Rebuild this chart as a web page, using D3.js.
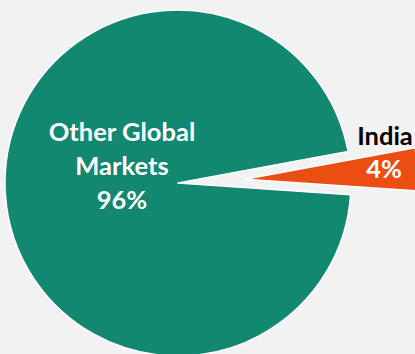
<!DOCTYPE html>
<html><head><meta charset="utf-8">
<script src="https://cdn.jsdelivr.net/npm/d3@7"></script>
<style>html,body{margin:0;padding:0;background:#f2f2f2;}svg{display:block;}</style>
</head><body>
<script>
const categories = ["India", "Other Global Markets"];
const values = [4, 96];
const labels = ["4%", "96%"];
const colors = ["#eb4e12", "#138871"];

const W = 415, H = 354;
const cx = 178, cy = 183, R = 173;
const svg = d3.select("body").append("svg").attr("width", W).attr("height", H);
svg.append("rect").attr("width", W).attr("height", H).attr("fill", "#f2f2f2");

const start = 79.5 * Math.PI / 180;
const pie = d3.pie().sort(null).startAngle(start).endAngle(start + 2 * Math.PI);
const arcs = pie(values);
const arc = d3.arc().innerRadius(0).outerRadius(R);
const explode = [67, 0];

const g = svg.append("g").attr("transform", `translate(${cx},${cy})`);
g.selectAll("path").data(arcs).join("path")
  .attr("d", arc)
  .attr("fill", (d, i) => colors[i])
  .attr("stroke", "#ffffff")
  .attr("stroke-width", 1.5)
  .attr("stroke-linejoin", "round")
  .attr("transform", (d, i) => {
    const m = (d.startAngle + d.endAngle) / 2;
    return `translate(${Math.sin(m) * explode[i]},${-Math.cos(m) * explode[i]})`;
  });

const font = "Lato, 'Open Sans', sans-serif";
const fs = 25.5;
const t = svg.append("text").attr("text-anchor", "middle")
  .attr("font-family", font).attr("font-weight", "bold").attr("font-size", fs)
  .attr("fill", "#ffffff");
[["Other Global", 141], ["Markets", 175], [labels[1], 209]].forEach(([s, y]) => {
  t.append("tspan").attr("x", 122).attr("y", y).text(s);
});
svg.append("text").attr("x", 385).attr("y", 145).attr("text-anchor", "middle")
  .attr("font-family", font).attr("font-weight", "bold").attr("font-size", fs)
  .attr("fill", "#000000").text(categories[0]);
svg.append("text").attr("x", 384).attr("y", 178).attr("text-anchor", "middle")
  .attr("font-family", font).attr("font-weight", "bold").attr("font-size", fs)
  .attr("fill", "#ffffff").text(labels[0]);
</script>
</body></html>
